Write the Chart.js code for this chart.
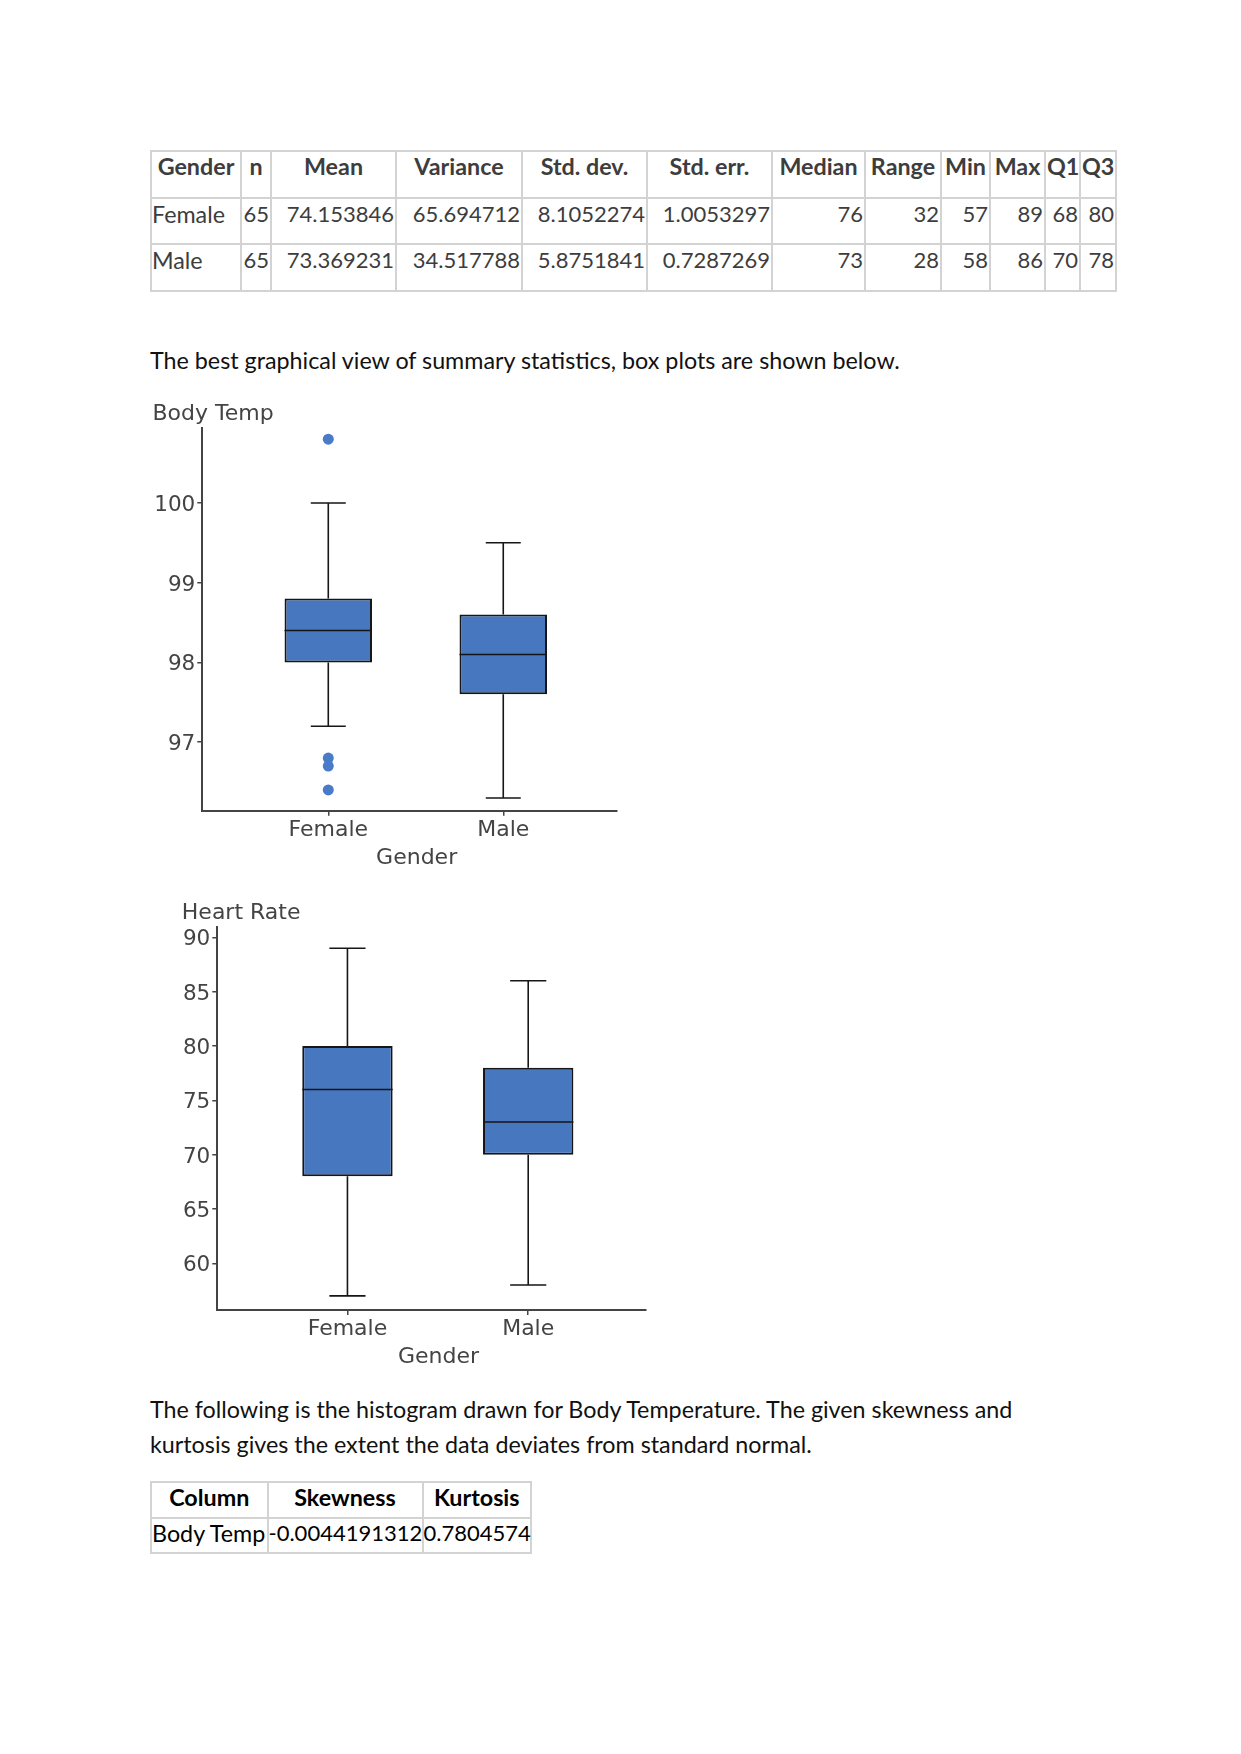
<!DOCTYPE html>
<html lang="en">
<head>
<meta charset="UTF-8">
<title>Body Temp and Heart Rate by Gender</title>
<script src="https://cdn.jsdelivr.net/npm/chart.js"></script>
<style>
  body { margin: 0; background: #fff; }
  #page { position: relative; width: 1241px; height: 1754px; font-family: Lato, sans-serif; overflow: hidden; }
  table { position: absolute; border-collapse: collapse; table-layout: fixed; font-size: 22px; line-height: 24px; }
  td, th { border: 2px solid #d3d3d3; padding: 3px 1px 0; vertical-align: top; white-space: nowrap; overflow: visible; }
  th, td.word { font-size: 23.3px; }
  #stats { left: 150px; top: 150px; width: 965px; color: #3d3d3d; }
  #stats tr { height: 46.7px; }
  #stats td { text-align: right; }
  #stats td.word { text-align: left; padding-left: 0; }
  #stats th { font-weight: bold; text-align: center; padding-top: 2px; }
  #shape { left: 150px; top: 1481px; width: 380px; color: #000; }
  #shape tr { height: 35.6px; }
  #shape td { text-align: left; padding: 2px 0 0; }
  #shape th { font-weight: bold; text-align: center; padding: 2px 0 0; }
  .text { position: absolute; left: 150px; margin: 0; font-size: 23.3px; color: #111; white-space: nowrap; }
  .chartBox { position: absolute; width: 490px; }
</style>
</head>
<body>
<div id="page">
  <table id="stats">
    <colgroup>
      <col style="width:90px"><col style="width:30px"><col style="width:125px"><col style="width:126px">
      <col style="width:125px"><col style="width:125px"><col style="width:93px"><col style="width:76px">
      <col style="width:49px"><col style="width:55px"><col style="width:35px"><col style="width:36px">
    </colgroup>
    <tr><th>Gender</th><th>n</th><th>Mean</th><th>Variance</th><th>Std. dev.</th><th>Std. err.</th><th>Median</th><th>Range</th><th>Min</th><th>Max</th><th>Q1</th><th>Q3</th></tr>
    <tr><td class="word">Female</td><td>65</td><td>74.153846</td><td>65.694712</td><td>8.1052274</td><td>1.0053297</td><td>76</td><td>32</td><td>57</td><td>89</td><td>68</td><td>80</td></tr>
    <tr><td class="word">Male</td><td>65</td><td>73.369231</td><td>34.517788</td><td>5.8751841</td><td>0.7287269</td><td>73</td><td>28</td><td>58</td><td>86</td><td>70</td><td>78</td></tr>
  </table>

  <p class="text" style="top:347px; line-height:26.4px;">The best graphical view of summary statistics, box plots are shown below.</p>

  <div class="chartBox" style="left:140px; top:390px; height:490px;"><canvas id="tempChart" width="490" height="490"></canvas></div>
  <div class="chartBox" style="left:165px; top:880px; height:500px;"><canvas id="rateChart" width="490" height="500"></canvas></div>

  <p class="text" style="top:1392px; line-height:35px;">The following is the histogram drawn for Body Temperature. The given skewness and<br>kurtosis gives the extent the data deviates from standard normal.</p>

  <table id="shape">
    <colgroup><col style="width:116.5px"><col style="width:155px"><col style="width:108.5px"></colgroup>
    <tr><th>Column</th><th>Skewness</th><th>Kurtosis</th></tr>
    <tr><td class="word">Body Temp</td><td>-0.0044191312</td><td>0.7804574</td></tr>
  </table>
</div>

<script>
  const genders = ['Female', 'Male'];

  // Body Temp (deg F)
  const tempMin = [97.2, 96.3];
  const tempQ1 = [98.0, 97.6];
  const tempMedian = [98.4, 98.1];
  const tempQ3 = [98.8, 98.6];
  const tempMax = [100.0, 99.5];
  const tempOutliers = [[100.8, 96.8, 96.7, 96.4], []];
  const tempTicks = [97, 98, 99, 100];
  const tempRange = [96.14, 100.94];

  // Heart Rate (bpm), same as the Min/Q1/Median/Q3/Max columns
  const rateMin = [57, 58];
  const rateQ1 = [68, 70];
  const rateMedian = [76, 73];
  const rateQ3 = [80, 78];
  const rateMax = [89, 86];
  const rateOutliers = [[], []];
  const rateTicks = [60, 65, 70, 75, 80, 85, 90];
  const rateRange = [55.7, 90.98];

  const xRange = [-0.72, 1.65];

  const BOX_FILL = '#4677bf';
  const DOT_FILL = '#4a7bc8';
  const INK = '#161616';
  const AXIS = '#444';
  const TEXT = '#444';
  const BOX_HALF = 0.25;
  const CAP_HALF = 0.1;

  Chart.defaults.font.family = "'DejaVu Sans', Verdana, sans-serif";

  function boxPlot(id, s) {
    // whiskers, caps and median as one broken polyline
    const lines = [];
    const gap = i => ({ x: i, y: null });
    genders.forEach((g, i) => {
      lines.push(
        { x: i, y: s.q3[i] }, { x: i, y: s.max[i] }, gap(i),
        { x: i - CAP_HALF, y: s.max[i] }, { x: i + CAP_HALF, y: s.max[i] }, gap(i),
        { x: i, y: s.q1[i] }, { x: i, y: s.min[i] }, gap(i),
        { x: i - CAP_HALF, y: s.min[i] }, { x: i + CAP_HALF, y: s.min[i] }, gap(i),
        { x: i - BOX_HALF, y: s.med[i] }, { x: i + BOX_HALF, y: s.med[i] }, gap(i)
      );
    });
    const dots = s.outliers.flatMap((arr, i) => arr.map(v => ({ x: i, y: v })));
    const tickGrid = { drawOnChartArea: false, drawTicks: true, tickLength: 5, color: AXIS, lineWidth: 1.5, offset: false };
    const axisLine = { display: true, color: AXIS, width: 2 };

    return new Chart(document.getElementById(id), {
      type: 'bar',
      data: {
        datasets: [
          { type: 'scatter', data: dots, backgroundColor: DOT_FILL, borderWidth: 0, pointRadius: 5.5, order: 1 },
          { type: 'line', data: lines, borderColor: INK, borderWidth: 1.6, pointRadius: 0, spanGaps: false, fill: false, order: 2 },
          {
            type: 'bar',
            data: genders.map((g, i) => ({ x: i, y: [s.q1[i], s.q3[i]] })),
            backgroundColor: BOX_FILL, borderColor: INK, borderWidth: 2, borderSkipped: false,
            categoryPercentage: BOX_HALF * 2, barPercentage: 1, order: 3
          }
        ]
      },
      options: {
        responsive: false,
        animation: false,
        events: [],
        layout: { padding: { left: s.padLeft, right: s.padRight, top: 0, bottom: 0 } },
        plugins: {
          legend: { display: false },
          tooltip: { enabled: false },
          title: {
            display: true, text: s.title, align: 'start', color: TEXT,
            font: { size: 22, weight: 'normal' },
            padding: { top: s.titleTop, bottom: s.titleBottom }
          }
        },
        scales: {
          x: {
            type: 'linear', min: xRange[0], max: xRange[1], offset: false,
            afterBuildTicks: sc => { sc.ticks = genders.map((g, i) => ({ value: i })); },
            afterFit: sc => { sc.height = s.xHeight; },
            ticks: { callback: v => genders[v], color: TEXT, font: { size: 22 }, padding: 1, maxRotation: 0, autoSkip: false },
            grid: tickGrid,
            border: axisLine,
            // leading spaces nudge the centred title right, as in the original
            title: { display: true, text: '  Gender', color: TEXT, font: { size: 22 }, padding: { top: 0, bottom: s.xTitleBottom } }
          },
          y: {
            type: 'linear', min: s.range[0], max: s.range[1], beginAtZero: false,
            afterBuildTicks: sc => { sc.ticks = s.ticks.map(v => ({ value: v })); },
            afterFit: sc => { sc.width = s.yWidth; },
            ticks: { color: TEXT, font: { size: 21.5 }, padding: 2, labelOffset: 2.5 },
            grid: tickGrid,
            border: axisLine
          }
        }
      }
    });
  }

  boxPlot('tempChart', {
    title: 'Body Temp',
    min: tempMin, q1: tempQ1, med: tempMedian, q3: tempQ3, max: tempMax,
    outliers: tempOutliers, ticks: tempTicks, range: tempRange,
    padLeft: 12.5, padRight: 13, titleTop: 10.7, titleBottom: 0.9,
    yWidth: 49.8, xHeight: 69.3, xTitleBottom: 8.9
  });

  boxPlot('rateChart', {
    title: 'Heart Rate',
    min: rateMin, q1: rateQ1, med: rateMedian, q3: rateQ3, max: rateMax,
    outliers: rateOutliers, ticks: rateTicks, range: rateRange,
    padLeft: 16.8, padRight: 9.3, titleTop: 19.7, titleBottom: 0.6,
    yWidth: 35.5, xHeight: 70, xTitleBottom: 9.6
  });
</script>
</body>
</html>
